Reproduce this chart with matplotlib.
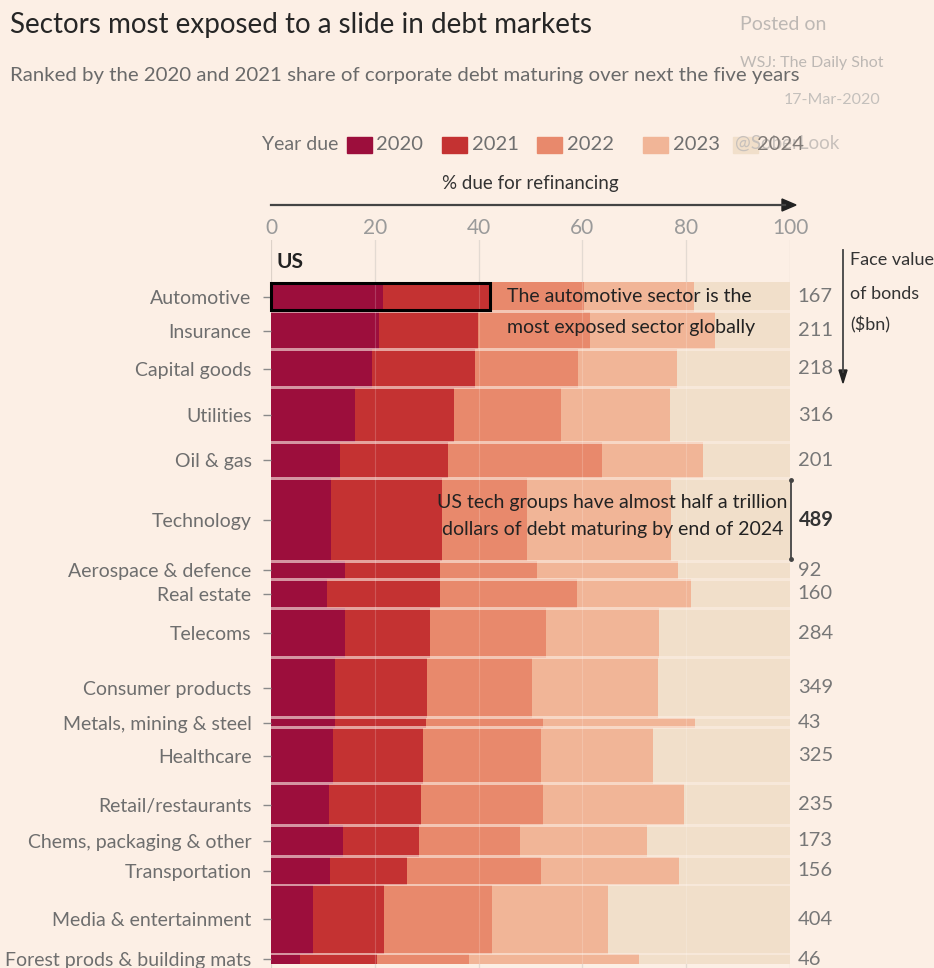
import matplotlib
matplotlib.use("Agg")
import matplotlib.pyplot as plt
from matplotlib.patches import Rectangle
import numpy as np

# ---------------- data ----------------
sectors = ["Automotive", "Insurance", "Capital goods", "Utilities", "Oil & gas",
           "Technology", "Aerospace & defence", "Real estate", "Telecoms",
           "Consumer products", "Metals, mining & steel", "Healthcare",
           "Retail/restaurants", "Chems, packaging & other", "Transportation",
           "Media & entertainment", "Forest prods & building mats"]
face_value = [167, 211, 218, 316, 201, 489, 92, 160, 284, 349, 43, 325, 235, 173, 156, 404, 46]
years = ["2020", "2021", "2022", "2023", "2024"]
share_2020 = [21.6, 20.8, 19.5, 16.2, 13.2, 11.6, 14.3, 10.7, 14.3, 12.4, 12.4, 12.0, 11.1, 13.9, 11.3, 8.0, 5.5]
share_2021 = [20.6, 19.1, 19.8, 19.1, 20.9, 21.4, 18.2, 21.8, 16.3, 17.7, 17.4, 17.3, 17.8, 14.6, 14.9, 13.8, 14.9]
share_2022 = [18.1, 21.5, 19.8, 20.6, 29.6, 16.3, 18.8, 26.4, 22.4, 20.2, 22.7, 22.7, 23.5, 19.5, 25.8, 20.7, 17.7]
share_2023 = [21.2, 24.1, 19.2, 21.0, 19.5, 27.8, 27.1, 22.0, 21.8, 24.3, 29.2, 21.6, 27.2, 24.5, 26.6, 22.5, 32.8]
share_2024 = [18.5, 14.5, 21.7, 23.1, 16.8, 22.9, 21.6, 19.1, 25.2, 25.4, 18.3, 26.4, 20.4, 27.5, 21.4, 35.0, 29.1]
x_ticks = [0, 20, 40, 60, 80, 100]

colors = ["#9c0e3c", "#c43232", "#e8896c", "#f1b597", "#f1dfca"]
BG = "#fcefe5"
FONT = ["Lato", "DejaVu Sans"]
plt.rcParams["font.family"] = FONT

W, H = 934, 968
fig = plt.figure(figsize=(W / 100, H / 100), dpi=100, facecolor=BG)


def fx(x):
    return x / W


def fy(y):
    return 1 - y / H


# ---------------- layout of bars ----------------
gap = 18.0
n = len(sectors)
tops = []
y = 0.0
for v in face_value:
    tops.append(y)
    y += v + gap
span = y - gap
bar_top_px, bar_bot_px, ax_top_px = 283, 963, 240
u = span / (bar_bot_px - bar_top_px)
ylim_top = -(bar_top_px - ax_top_px) * u
ylim_bot = span + (H - bar_bot_px) * u

ax = fig.add_axes([fx(271), 0, fx(790) - fx(271), (H - ax_top_px) / H])
ax.set_facecolor(BG)
ax.set_xlim(0, 100)
ax.set_ylim(ylim_bot, ylim_top)
for s in ax.spines.values():
    s.set_visible(False)

# grid
for t in x_ticks:
    ax.axvline(t, color="#ddd2c9", lw=0.9, zorder=0)

shares = [share_2020, share_2021, share_2022, share_2023, share_2024]
tops_arr = np.array(tops)
fv = np.array(face_value, dtype=float)
left = np.zeros(n)
for sh, c in zip(shares, colors):
    sh = np.array(sh)
    ax.barh(tops_arr - gap / 2, sh, height=fv + gap, left=left, align="edge",
            color=c, linewidth=0, zorder=1)
    left += sh

# separators (tinted gaps)
for i in range(1, n):
    ax.barh(tops_arr[i] - gap, 100, height=gap, left=0, align="edge",
            color=BG, alpha=0.6, linewidth=0, zorder=2)

for t in x_ticks[1:-1]:
    ax.axvline(t, color="white", lw=0.8, alpha=0.18, zorder=3)

centers = tops_arr + fv / 2
ax.set_yticks(centers)
ax.set_yticklabels(sectors, fontsize=14, color="#6e6e6e")
ax.tick_params(axis="y", length=6, width=1, color="#8a8a8a", pad=8)
ax.set_xticks([])

# face value labels
for i, (c, v) in enumerate(zip(centers, face_value)):
    if sectors[i] == "Technology":
        ax.text(101.8, c, str(v), va="center", ha="left", fontsize=14.5,
                fontweight="bold", color="#333333", clip_on=False)
    else:
        ax.text(101.5, c, str(v), va="center", ha="left", fontsize=14.5,
                color="#777777", clip_on=False)

# automotive box
ax.add_patch(Rectangle((0, tops[0]), share_2020[0] + share_2021[0], face_value[0],
                       fill=False, edgecolor="black", lw=2.2, zorder=5, clip_on=False))
ax.text(45.5, tops[0] + face_value[0] * 0.5, "The automotive sector is the",
        fontsize=14, color="#222222", va="center", ha="left", zorder=6)
ax.text(45.5, tops[1] + face_value[1] * 0.42, "most exposed sector globally",
        fontsize=14, color="#222222", va="center", ha="left", zorder=6)

# technology bracket
ti = sectors.index("Technology")
ax.plot([100.2, 100.2], [tops[ti] + 4, tops[ti] + face_value[ti] - 4], color="#444444",
        lw=1.3, clip_on=False, zorder=6, marker="o", markersize=2.5)
ax.text(65.8, tops[ti] + face_value[ti] * 0.28, "US tech groups have almost half a trillion",
        fontsize=14, color="#222222", ha="center", va="center", zorder=6)
ax.text(65.8, tops[ti] + face_value[ti] * 0.62, "dollars of debt maturing by end of 2024",
        fontsize=14, color="#222222", ha="center", va="center", zorder=6)

# US label
fig.text(fx(277), fy(262), "US", fontsize=15, fontweight="bold", color="#222222",
         ha="left", va="center")

# x tick labels on top
for t in x_ticks:
    xp = 271 + t * 5.19
    fig.text(fx(xp), fy(228), str(t), fontsize=15, color="#9a9a9a", ha="center", va="center")

# top arrow
fig.add_artist(plt.Line2D([fx(271), fx(785)], [fy(205), fy(205)], color="#444444", lw=1.6))
fig.patches.append(plt.Polygon([[fx(782), fy(199)], [fx(796), fy(205)], [fx(782), fy(211)]],
                               closed=True, color="#222222", transform=fig.transFigure,
                               figure=fig))
fig.text(fx(530), fy(183), "% due for refinancing", fontsize=13.5, color="#333333",
         ha="center", va="center")

# legend
fig.text(fx(262), fy(145), "Year due", fontsize=14, color="#707070", ha="left", va="center")
sw_x = [347, 442, 537, 643, 733]
lab_x = [376, 472, 567, 673, 757]
for i, (sx, lx, yr) in enumerate(zip(sw_x, lab_x, years)):
    fig.patches.append(Rectangle((fx(sx), fy(153)), 25 / W, 16 / H, color=colors[i],
                                 transform=fig.transFigure, figure=fig))
fig.text(fx(735), fy(143), "@SoberLook", fontsize=13.5, color="#c8c1bc", ha="left", va="center")
for i, (lx, yr) in enumerate(zip(lab_x, years)):
    fig.text(fx(lx), fy(145), yr, fontsize=14.5,
             color="#707070" if i < 4 else "#807a76", ha="left", va="center")

# face value header with down arrow
fig.add_artist(plt.Line2D([fx(843), fx(843)], [fy(250), fy(372)], color="#444444", lw=1.3))
fig.patches.append(plt.Polygon([[fx(839), fy(370)], [fx(843), fy(383)], [fx(847), fy(370)]],
                               closed=True, color="#222222", transform=fig.transFigure,
                               figure=fig))
for txt, yy in [("Face value", 260), ("of bonds", 294), ("($bn)", 325)]:
    fig.text(fx(850), fy(yy), txt, fontsize=13, color="#333333", ha="left", va="center")

# titles
fig.text(fx(10), fy(25), "Sectors most exposed to a slide in debt markets", fontsize=20,
         color="#262626", ha="left", va="center")
fig.text(fx(10), fy(75), "Ranked by the 2020 and 2021 share of corporate debt maturing over next the five years",
         fontsize=14.7, color="#6a6a6a", ha="left", va="center")
fig.text(fx(740), fy(25), "Posted on", fontsize=14, color="#bdb8b4", ha="left", va="center")
fig.text(fx(740), fy(63), "WSJ: The Daily Shot", fontsize=11.5, color="#bdb8b4", ha="left", va="center")
fig.text(fx(880), fy(100), "17-Mar-2020", fontsize=11.5, color="#c4c0bc", ha="right", va="center")

fig.savefig("out.png", dpi=100, facecolor=BG)
